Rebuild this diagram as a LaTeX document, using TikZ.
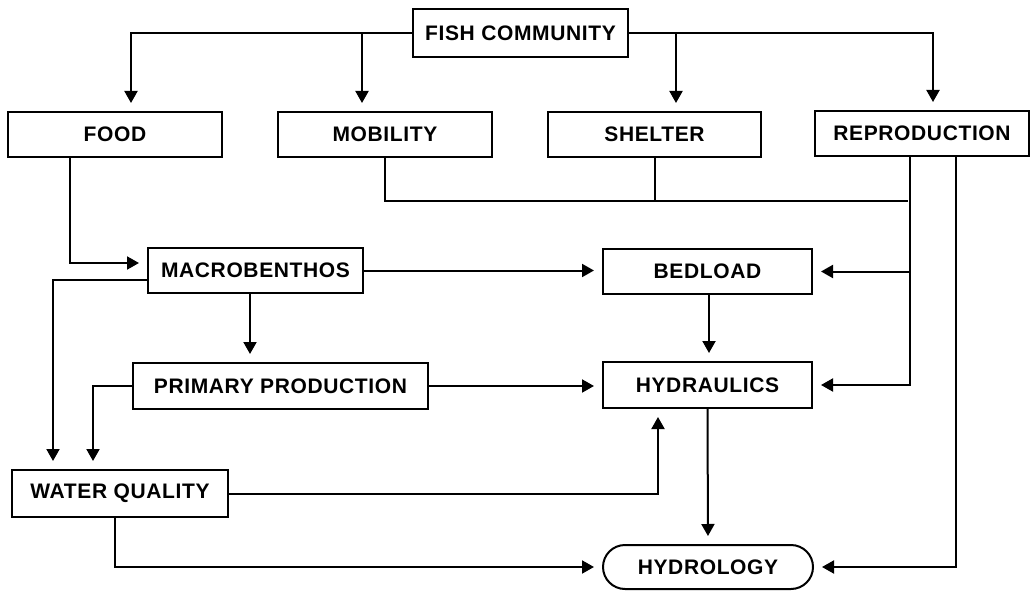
\documentclass[tikz,border=0pt]{standalone}
\usepackage{fontspec}
\setmainfont{Liberation Sans}
\usetikzlibrary{arrows.meta}
\begin{document}
\begin{tikzpicture}[x=1pt,y=-1pt,
  line/.style={line width=2pt},
  arr/.style={line, -{Triangle[length=12pt,width=13pt]}, shorten >=8pt},
  box/.style={draw, line width=2pt, rectangle, inner sep=0pt,
    minimum height=45pt,
    font=\fontsize{21}{24}\selectfont\bfseries\addfontfeatures{LetterSpace=3}},
  roundbox/.style={box, rounded corners=22pt}]
\useasboundingbox (0,0) rectangle (1031,591);

% boxes
\node[box, minimum width=215pt, minimum height=48pt] (fish) at (520.5,33) {FISH COMMUNITY};
\node[box, minimum width=214pt] (food) at (115,134.5) {FOOD};
\node[box, minimum width=214pt] (mobility) at (385,134.5) {MOBILITY};
\node[box, minimum width=213pt] (shelter) at (654.5,134.5) {SHELTER};
\node[box, minimum width=214pt] (repro) at (922,133.5) {REPRODUCTION};
\node[box, minimum width=215pt] (macro) at (255.5,270.5) {MACROBENTHOS};
\node[box, minimum width=209pt] (bedload) at (707.5,271.5) {BEDLOAD};
\node[box, minimum width=295pt, minimum height=46pt] (primary) at (280.5,386) {PRIMARY PRODUCTION};
\node[box, minimum width=209pt, minimum height=46pt] (hydraulics) at (707.5,385) {HYDRAULICS};
\node[box, minimum width=216pt, minimum height=47pt] (water) at (120,493.5) {WATER QUALITY};
\node[roundbox, minimum width=210pt, minimum height=44pt] (hydrology) at (708,567) {HYDROLOGY};

% fish community to its four needs
\draw[arr] (fish.west) -| ([xshift=16pt]food.north);
\draw[arr] ([xshift=-23pt]mobility.north |- fish.west) -- ([xshift=-23pt]mobility.north);
\draw[arr] (fish.east) -| ([xshift=11pt]repro.north);
\draw[arr] ([xshift=21.5pt]shelter.north |- fish.east) -- ([xshift=21.5pt]shelter.north);

% mobility, shelter and reproduction bus
\coordinate (bus) at (908,201);
\draw[line] (mobility.south) |- (bus);
\draw[line] (shelter.south) -- (shelter.south |- bus);
\draw[arr] ([xshift=-12pt]repro.south) |- (hydraulics.east);
\draw[arr] ([xshift=-12pt]repro.south |- bedload.east) -- (bedload.east);
\draw[arr] ([xshift=34pt]repro.south) |- (hydrology.east);

% food web
\draw[arr] ([xshift=-45pt]food.south) |- ([yshift=7.5pt]macro.west);
\draw[arr] (macro.east) -- (macro.east -| bedload.west);
\draw[arr] ([yshift=-9.5pt]macro.west) -| ([xshift=-67pt]water.north);
\draw[arr] ([xshift=-5.5pt]macro.south) -- ([xshift=-5.5pt]macro.south |- primary.north);
\draw[arr] (primary.west) -| ([xshift=-27pt]water.north);
\draw[arr] (primary.east) -- (primary.east -| hydraulics.west);

% physical habitat
\draw[arr] ([xshift=1.5pt]bedload.south) -- ([xshift=1.5pt]hydraulics.north);
\draw[arr] (water.east) -| ([xshift=-49.5pt]hydraulics.south);
\draw[arr] ([xshift=-5pt]water.south) |- (hydrology.west);
\draw[arr] (hydraulics.south) -- (hydrology.north);
\end{tikzpicture}
\end{document}
